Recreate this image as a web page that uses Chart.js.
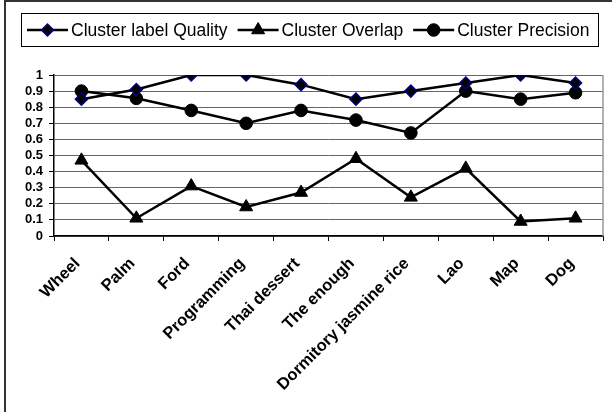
<!DOCTYPE html>
<html>
<head>
<meta charset="utf-8">
<script src="https://cdn.jsdelivr.net/npm/chart.js@4/dist/chart.umd.min.js"></script>
<style>
  html, body { margin: 0; padding: 0; background: #fff; }
  #wrap { width: 612px; height: 412px; position: relative; }
</style>
</head>
<body>
<div id="wrap"><canvas id="mycanvas"></canvas></div>
<script>
var categories = ['Wheel', 'Palm', 'Ford', 'Programming', 'Thai dessert', 'The enough',
  'Dormitory jasmine rice', 'Lao', 'Map', 'Dog'];
var labelQuality = [0.85, 0.91, 1.0, 1.0, 0.94, 0.85, 0.90, 0.95, 1.0, 0.95];
var overlap = [0.47, 0.11, 0.31, 0.18, 0.27, 0.48, 0.24, 0.42, 0.09, 0.11];
var precision = [0.90, 0.855, 0.78, 0.70, 0.78, 0.72, 0.64, 0.90, 0.85, 0.89];
var yTicks = [0, 0.1, 0.2, 0.3, 0.4, 0.5, 0.6, 0.7, 0.8, 0.9, 1];

// frame of the picture, right edge of the plot and the boxed legend
var framePlugin = {
  id: 'frame',
  beforeDraw: function(chart) {
    var ctx = chart.ctx;
    ctx.save();
    ctx.strokeStyle = '#333';
    ctx.lineWidth = 2;
    ctx.beginPath();
    ctx.moveTo(5, 412); ctx.lineTo(5, 1); ctx.lineTo(612, 1);
    ctx.stroke();
    ctx.restore();
  },
  afterDatasetsDraw: function(chart) {
    var ctx = chart.ctx;
    var area = chart.chartArea;
    ctx.save();
    ctx.strokeStyle = '#999';
    ctx.lineWidth = 1.5;
    ctx.beginPath();
    ctx.moveTo(area.right, area.top); ctx.lineTo(area.right, area.bottom);
    ctx.stroke();

    // legend
    ctx.fillStyle = '#fff';
    ctx.fillRect(21, 13, 577, 33);
    ctx.strokeStyle = '#000';
    ctx.lineWidth = 1;
    ctx.strokeRect(21.5, 13.5, 577, 33);
    ctx.font = '17.5px "Liberation Sans", Arial, sans-serif';
    ctx.textBaseline = 'middle';
    var x = 27, y = 30;
    chart.data.datasets.forEach(function(ds) {
      ctx.strokeStyle = '#000';
      ctx.lineWidth = 2.5;
      ctx.beginPath();
      ctx.moveTo(x, y); ctx.lineTo(x + 41, y);
      ctx.stroke();
      ctx.fillStyle = ds.pointBackgroundColor;
      ctx.strokeStyle = ds.pointBorderColor;
      ctx.lineWidth = ds.pointBorderWidth;
      Chart.helpers.drawPoint(ctx, {pointStyle: ds.pointStyle, radius: ds.pointRadius, borderWidth: ds.pointBorderWidth}, x + 20.5, y);
      ctx.fillStyle = '#000';
      ctx.fillText(ds.label, x + 44, y + 1);
      x += 44 + ctx.measureText(ds.label).width + 10;
    });
    ctx.restore();
  }
};

var chartdata = {
  labels: categories,
  datasets: [
    {
      label: 'Cluster label Quality',
      data: labelQuality,
      borderColor: '#000',
      borderWidth: 2.5,
      pointStyle: 'rectRot',
      pointRadius: 6,
      pointBackgroundColor: '#000',
      pointBorderColor: '#000080',
      pointBorderWidth: 1.5
    },
    {
      label: 'Cluster Overlap',
      data: overlap,
      borderColor: '#000',
      borderWidth: 2.5,
      pointStyle: 'triangle',
      pointRadius: 7.5,
      pointBackgroundColor: '#000',
      pointBorderColor: '#000',
      pointBorderWidth: 1
    },
    {
      label: 'Cluster Precision',
      data: precision,
      borderColor: '#000',
      borderWidth: 2.5,
      pointStyle: 'circle',
      pointRadius: 6.3,
      pointBackgroundColor: '#000',
      pointBorderColor: '#000',
      pointBorderWidth: 1
    }
  ]
};

var ctx = document.getElementById('mycanvas');
var lineGraph = new Chart(ctx, {
  type: 'line',
  data: chartdata,
  plugins: [framePlugin],
  options: {
    responsive: true,
    maintainAspectRatio: false,
    animation: false,
    layout: { padding: { top: 75, right: 9, left: 0, bottom: 0 } },
    plugins: { legend: { display: false }, tooltip: { enabled: false } },
    elements: { line: { tension: 0 } },
    scales: {
      x: {
        offset: true,
        afterFit: function(scale) { scale.height = 176; },
        grid: { offset: true, drawOnChartArea: false, tickLength: 5, tickColor: '#000' },
        border: { color: '#000', width: 1.5 },
        ticks: {
          color: '#000',
          maxRotation: 45,
          minRotation: 45,
          autoSkip: false,
          padding: 13,
          labelOffset: -4,
          font: { family: '"Liberation Sans", Arial, sans-serif', size: 16.5, weight: 'bold' }
        }
      },
      y: {
        min: 0,
        max: 1,
        afterFit: function(scale) { scale.width = 54; },
        afterBuildTicks: function(scale) {
          scale.ticks = yTicks.map(function(v) { return { value: v }; });
        },
        grid: { color: '#666', lineWidth: 1, tickLength: 5, tickColor: '#000' },
        border: { color: '#000', width: 1.5 },
        ticks: {
          color: '#000',
          autoSkip: false,
          padding: 6,
          font: { family: '"Liberation Sans", Arial, sans-serif', size: 13, weight: 'bold' },
          callback: function(v) { return String(v); }
        }
      }
    }
  }
});
</script>
</body>
</html>
